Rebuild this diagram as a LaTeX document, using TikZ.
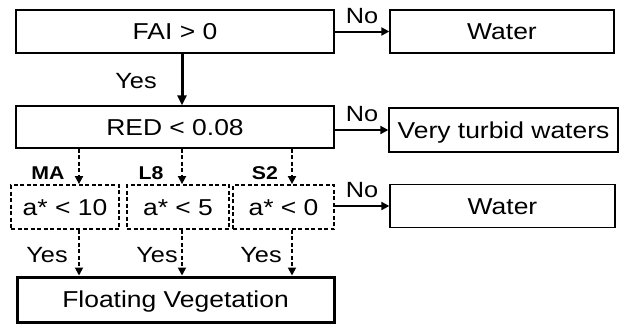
\documentclass[tikz,border=0pt]{standalone}
\usepackage{fontspec}
\setmainfont[FakeStretch=1.15]{Liberation Sans}
\usetikzlibrary{arrows.meta}
\begin{document}
\begin{tikzpicture}[x=1pt,y=-1pt,
 box/.style={draw, line width=1.3pt, rectangle, inner sep=0pt, font=\fontsize{23}{27}\selectfont, text height=16.5pt, text depth=0pt},
 dbox/.style={box, dash pattern=on 4pt off 2.5pt, line width=1.8pt},
 thickbox/.style={box, line width=3pt},
 arr/.style={line width=2pt, -{Triangle[length=8pt,width=8pt]}},
 bigarr/.style={line width=3pt, -{Triangle[length=10pt,width=9pt]}},
 darr/.style={line width=1.8pt, dash pattern=on 4pt off 2.5pt, -{Triangle[length=8pt,width=8pt]}},
 lbl/.style={inner sep=0pt, font=\fontsize{22}{26}\selectfont, text height=16pt, text depth=0pt},
 blbl/.style={inner sep=0pt, font=\fontsize{18.5}{21}\selectfont\bfseries, text height=13pt, text depth=0pt}]
\useasboundingbox (0,0) rectangle (620,324);
\coordinate (c1) at (79,0);
\coordinate (c2) at (182,0);
\coordinate (c3) at (292,0);
\node[box, minimum width=318pt, minimum height=43pt] (fai) at (175,31.5) {FAI > 0};
\node[box, minimum width=224pt, minimum height=43pt] (w1) at (502,31.5) {Water};
\node[box, minimum width=318pt, minimum height=42pt] (red) at (175,127) {RED < 0.08};
\node[box, minimum width=229pt, minimum height=44pt] (vt) at (503.5,130) {Very turbid waters};
\node[dbox, minimum width=108pt, minimum height=44pt] (d1) at (65,207) {a* < 10};
\node[dbox, minimum width=102pt, minimum height=44pt] (d2) at (178,207) {a* < 5};
\node[dbox, minimum width=101pt, minimum height=44pt] (d3) at (283.5,207) {a* < 0};
\node[box, minimum width=225pt, minimum height=43pt] (w3) at (502.5,206) {Water};
\node[thickbox, minimum width=317pt, minimum height=45pt] (fv) at (175.5,299.5) {Floating Vegetation};
% solid arrows
\draw[bigarr] (fai.south -| c2) -- (red.north -| c2);
\draw[arr] (fai.east) -- (w1.west);
\draw[arr] (red.east |- vt.west) -- (vt.west);
\draw[arr] (d3.east |- w3.west) -- (w3.west);
% dashed arrows
\draw[darr] (red.south -| c1) -- (d1.north -| c1);
\draw[darr] (red.south -| c2) -- (d2.north -| c2);
\draw[darr] (red.south -| c3) -- (d3.north -| c3);
\draw[darr] (d1.south -| c1) -- (fv.north -| c1);
\draw[darr] (d2.south -| c2) -- (fv.north -| c2);
\draw[darr] (d3.south -| c3) -- (fv.north -| c3);
% labels
\node[lbl] (yes0) at (136,80) {Yes};
\node[lbl] (no1) at (362,15) {No};
\node[lbl] (no2) at (362,113) {No};
\node[lbl] (no3) at (362,189) {No};
\node[blbl] (ma) at (48,173) {MA};
\node[blbl] (l8) at (151,173) {L8};
\node[blbl] (s2) at (265,173) {S2};
\node[lbl] (yes1) at (47,254) {Yes};
\node[lbl] (yes2) at (157,254) {Yes};
\node[lbl] (yes3) at (261,254) {Yes};
\end{tikzpicture}
\end{document}
